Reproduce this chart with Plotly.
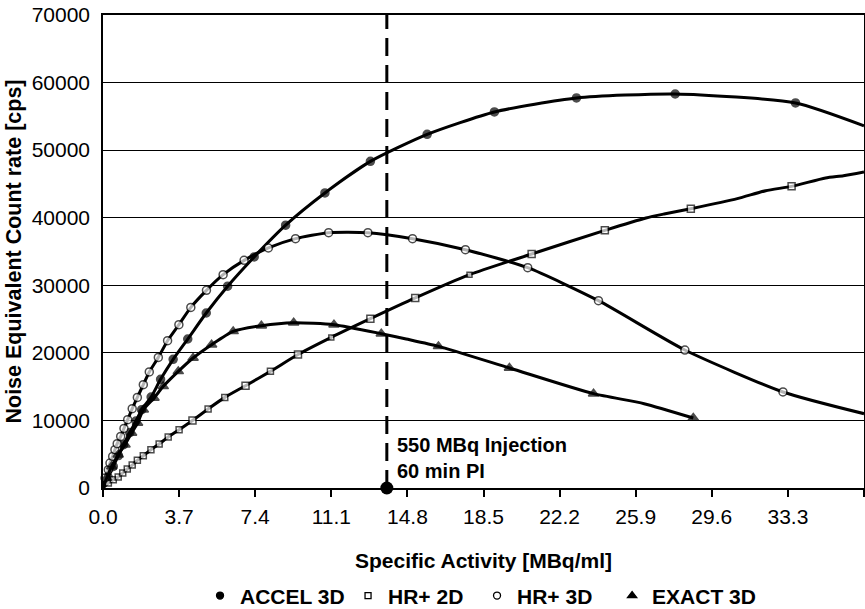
import plotly.graph_objects as go

# ---------------- data ----------------
accel_x = [0, 0.25, 0.5, 0.75, 1.0, 1.3, 1.6, 1.88, 2.34, 2.8, 3.41, 4.12, 5.02, 6.06, 7.35, 8.88, 10.79, 13.0, 15.76, 19.03, 23.02, 27.82, 33.67, 37.0]
accel_y = [0, 1600, 3200, 4800, 6400, 8200, 9900, 11590, 13450, 16080, 19040, 22050, 25900, 29870, 34200, 38900, 43660, 48340, 52340, 55650, 57720, 58310, 56980, 53600]
accel_mk = [0, 8, 8, 8, 8, 8, 8, 8, 8, 8, 8, 8, 8, 8, 8, 8, 8, 8, 8, 8, 8, 8, 8, 0]

hr2_x = [0, 0.26, 0.5, 0.74, 0.96, 1.18, 1.42, 1.67, 1.96, 2.33, 2.73, 3.17, 3.70, 4.35, 5.11, 5.92, 6.93, 8.14, 9.48, 11.1, 13.0, 15.18, 17.82, 20.84, 24.4, 26.4, 27.28, 28.58, 30.84, 32.22, 33.48, 35.13, 36.0, 37.0]
hr2_y = [0, 740, 1230, 1630, 2220, 2810, 3400, 4090, 4780, 5670, 6510, 7550, 8630, 10000, 11690, 13410, 15140, 17260, 19750, 22290, 25050, 28120, 31570, 34630, 38130, 39960, 40550, 41340, 42820, 44000, 44640, 45880, 46220, 46770]
hr2_mk = [0, 6, 6, 6, 6, 6, 6, 6, 6, 6, 6, 6, 6, 7, 6, 6, 7, 6, 7, 5, 7, 7, 5, 7, 7, 0, 0, 7, 0, 0, 7, 0, 0, 0]

hr3_x = [0, 0.1, 0.26, 0.34, 0.47, 0.58, 0.69, 0.86, 1.02, 1.2, 1.42, 1.67, 1.96, 2.25, 2.69, 3.14, 3.69, 4.27, 5.03, 5.84, 6.86, 8.04, 9.36, 10.97, 12.88, 15.05, 17.62, 20.65, 24.09, 28.29, 33.06, 37.0]
hr3_y = [0, 1480, 2710, 3700, 4680, 5670, 6560, 7640, 8820, 10110, 11740, 13410, 15290, 17170, 19330, 21800, 24170, 26730, 29250, 31570, 33690, 35520, 36900, 37780, 37780, 36900, 35270, 32600, 27720, 20420, 14210, 11000]
hr3_mk = [0] + [8] * 30 + [0]

exact_x = [0, 0.18, 0.42, 0.74, 1.07, 1.39, 1.68, 1.96, 2.48, 2.93, 3.66, 4.38, 5.28, 6.33, 7.7, 9.27, 11.23, 13.53, 14.74, 16.31, 19.76, 23.85, 26.31, 28.7]
exact_y = [0, 1480, 3200, 4930, 6410, 8140, 9620, 11590, 13320, 15040, 17260, 19240, 21210, 23180, 24020, 24470, 24170, 22840, 22050, 20960, 17760, 13960, 12480, 10360]
exact_mk = [0, 9, 9, 9, 9, 9, 9, 9, 9, 9, 9, 9, 9, 9, 9, 9, 9, 9, 0, 9, 9, 9, 0, 9]

injection_x = 13.8
y_top = 70000

x_tickvals = [0, 3.7, 7.4, 11.1, 14.8, 18.5, 22.2, 25.9, 29.6, 33.3, 37.0]
x_ticktext = ["0.0", "3.7", "7.4", "11.1", "14.8", "18.5", "22.2", "25.9", "29.6", "33.3", ""]
y_tickvals = [0, 10000, 20000, 30000, 40000, 50000, 60000, 70000]

names = ["ACCEL 3D", "HR+ 2D", "HR+ 3D", "EXACT 3D"]

# ---------------- figure ----------------
FONT = "Liberation Sans, Arial, sans-serif"
fig = go.Figure()

series = [
    (accel_x, accel_y, accel_mk, "circle", "black"),
    (hr2_x, hr2_y, hr2_mk, "square", "white"),
    (hr3_x, hr3_y, hr3_mk, "circle", "white"),
    (exact_x, exact_y, exact_mk, "triangle-up", "black"),
]
for (xs, ys, mk, sym, fill), nm in zip(series, names):
    fig.add_trace(go.Scatter(
        x=xs, y=ys, mode="lines+markers", name=nm, showlegend=False,
        line=dict(color="black", width=3, shape="spline", smoothing=0.6),
        marker=dict(symbol=sym, size=mk, color=fill, line=dict(color="black", width=1.5)),
        cliponaxis=False,
    ))

# injection marker
fig.add_trace(go.Scatter(
    x=[injection_x, injection_x], y=[0, y_top], mode="lines", showlegend=False,
    line=dict(color="black", width=3, dash="18px,9px"),
))
fig.add_trace(go.Scatter(
    x=[injection_x], y=[0], mode="markers", showlegend=False,
    marker=dict(symbol="circle", size=13, color="black"), cliponaxis=False,
))

# legend-only traces (markers only)
legend_syms = [("circle", "black", 7), ("square", "white", 6), ("circle", "white", 7), ("triangle-up", "black", 8)]
legend_ids = ["legend", "legend2", "legend3", "legend4"]
for (sym, fill, sz), nm, lid in zip(legend_syms, names, legend_ids):
    fig.add_trace(go.Scatter(
        x=[None], y=[None], mode="markers", name=nm, legend=lid,
        marker=dict(symbol=sym, size=sz, color=fill, line=dict(color="black", width=1.3)),
    ))

leg_common = dict(orientation="h", yref="container", yanchor="middle", y=0.0215,
                  xanchor="left",
                  font=dict(family=FONT, size=21, color="black", weight="bold"),
                  bgcolor="rgba(0,0,0,0)", itemwidth=30)
leg_x = [0.1275, 0.322, 0.4915, 0.669]

fig.add_annotation(
    x=injection_x, y=4400, xref="x", yref="y", xanchor="left", yanchor="middle",
    xshift=8, align="left", showarrow=False,
    text="550 MBq Injection<br>60 min PI",
    font=dict(family=FONT, size=20, color="black", weight="bold"),
)

fig.update_layout(
    width=865, height=609, autosize=False,
    margin=dict(l=103, r=1, t=15, b=121),
    paper_bgcolor="white", plot_bgcolor="white",
    font=dict(family=FONT, color="black"),
    legend=dict(x=leg_x[0], **leg_common),
    legend2=dict(x=leg_x[1], **leg_common),
    legend3=dict(x=leg_x[2], **leg_common),
    legend4=dict(x=leg_x[3], **leg_common),
    xaxis=dict(
        range=[0, 37], tickmode="array", tickvals=x_tickvals, ticktext=x_ticktext,
        ticks="outside", ticklen=7, tickwidth=1.5, tickcolor="black",
        showgrid=False, zeroline=False, automargin=False,
        showline=True, linecolor="black", linewidth=1.5, mirror=True,
        tickfont=dict(family=FONT, size=21, color="black"),
        ticklabelstandoff=2,
        title=dict(text="Specific Activity [MBq/ml]", standoff=26,
                   font=dict(family=FONT, size=21, color="black", weight="bold")),
    ),
    yaxis=dict(
        range=[0, 70000], tickmode="array", tickvals=y_tickvals, tickformat="d",
        ticks="", showgrid=True, gridcolor="black", gridwidth=1, zeroline=False,
        showline=True, linecolor="black", linewidth=1.5, mirror=True, automargin=False,
        tickfont=dict(family=FONT, size=21, color="black"),
        ticklabelstandoff=7,
        title=dict(text="Noise Equivalent Count rate [cps]", standoff=4,
                   font=dict(family=FONT, size=21.5, color="black", weight="bold")),
    ),
)

fig.write_html(
    "out.html",
    config={"responsive": False, "displayModeBar": False},
    post_script="document.body.style.margin='0';document.body.style.overflow='hidden';",
)
